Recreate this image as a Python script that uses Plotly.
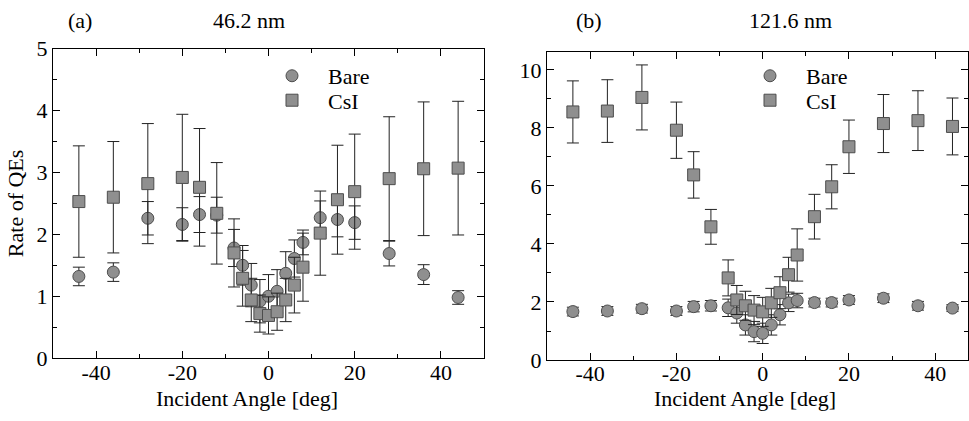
import plotly.graph_objects as go

# ---------------- data ----------------
# Panel (a) 46.2 nm
a_bare_x = [-44, -36, -28, -20, -16, -12, -8, -6, -4, -2, 0, 2, 4, 6, 8, 12, 16, 20, 28, 36, 44]
a_bare_y = [1.32, 1.39, 2.26, 2.16, 2.32, 2.31, 1.78, 1.50, 1.18, 0.92, 1.00, 1.08, 1.37, 1.61, 1.87, 2.27, 2.24, 2.19, 1.69, 1.35, 0.98]
a_bare_e = [0.15, 0.15, 0.27, 0.27, 0.29, 0.29, 0.30, 0.32, 0.35, 0.35, 0.35, 0.35, 0.35, 0.30, 0.20, 0.27, 0.28, 0.27, 0.20, 0.16, 0.11]

a_csi_x = [-44, -36, -28, -20, -16, -12, -8, -6, -4, -2, 0, 2, 4, 6, 8, 12, 16, 20, 28, 36, 44]
a_csi_y = [2.53, 2.60, 2.82, 2.92, 2.76, 2.34, 1.70, 1.29, 0.94, 0.72, 0.69, 0.75, 0.94, 1.18, 1.47, 2.02, 2.56, 2.69, 2.90, 3.06, 3.07]
a_csi_e = [0.90, 0.90, 0.97, 1.02, 0.95, 0.82, 0.55, 0.45, 0.35, 0.30, 0.30, 0.30, 0.35, 0.45, 0.55, 0.68, 0.88, 0.93, 1.00, 1.08, 1.08]

# Panel (b) 121.6 nm
b_bare_x = [-44, -36, -28, -20, -16, -12, -8, -6, -4, -2, 0, 2, 4, 6, 8, 12, 16, 20, 28, 36, 44]
b_bare_y = [1.67, 1.69, 1.77, 1.69, 1.84, 1.87, 1.80, 1.62, 1.21, 0.98, 0.92, 1.21, 1.56, 1.97, 2.05, 1.98, 1.98, 2.07, 2.13, 1.87, 1.79]
b_bare_e = [0.15, 0.15, 0.15, 0.15, 0.18, 0.18, 0.30, 0.35, 0.35, 0.35, 0.35, 0.35, 0.35, 0.30, 0.25, 0.15, 0.15, 0.15, 0.15, 0.15, 0.12]

b_csi_x = [-44, -36, -28, -20, -16, -12, -8, -6, -4, -2, 0, 2, 4, 6, 8, 12, 16, 20, 28, 36, 44]
b_csi_y = [8.55, 8.58, 9.05, 7.92, 6.38, 4.59, 2.83, 2.07, 1.87, 1.72, 1.66, 1.97, 2.32, 2.94, 3.62, 4.94, 5.97, 7.35, 8.15, 8.25, 8.05]
b_csi_e = [1.07, 1.08, 1.12, 0.97, 0.80, 0.60, 0.62, 0.50, 0.50, 0.50, 0.50, 0.50, 0.55, 0.60, 0.90, 0.77, 0.76, 0.92, 1.00, 1.03, 0.98]

x_ticks = [-40, -20, 0, 20, 40]
x_tick_text = ["-40", "-20", "0", "20", "40"]
a_y_ticks = [0, 1, 2, 3, 4, 5]
b_y_ticks = [0, 2, 4, 6, 8, 10]

FONT = "Liberation Serif"
FS = 22
FILL = "#8f8f8f"
EDGE = "#4d4d4d"

fig = go.Figure()

def add(x, y, e, name, symbol, xa, ya, legend):
    fig.add_trace(go.Scatter(
        x=x, y=y, mode="markers", name=name,
        marker=dict(symbol=symbol, size=12, color=FILL, line=dict(color=EDGE, width=1)),
        error_y=dict(type="data", array=e, visible=True, color="#222222", thickness=1, width=6),
        xaxis=xa, yaxis=ya, legend=legend,
    ))

add(a_bare_x, a_bare_y, a_bare_e, "Bare", "circle", "x", "y", "legend")
add(a_csi_x, a_csi_y, a_csi_e, "CsI", "square", "x", "y", "legend2")
add(b_bare_x, b_bare_y, b_bare_e, "Bare", "circle", "x2", "y2", "legend3")
add(b_csi_x, b_csi_y, b_csi_e, "CsI", "square", "x2", "y2", "legend4")

W, H = 969, 421
def px(x0, x1):
    return [x0 / W, x1 / W]
def py(ytop, ybot):
    return [1 - ybot / H, 1 - ytop / H]

def axis(minor_dtick, **kw):
    d = dict(
        showline=True, linecolor="black", linewidth=1, mirror="allticks",
        ticks="inside", ticklen=7, tickwidth=1, tickcolor="black",
        showgrid=False, zeroline=False,
        tickfont=dict(family=FONT, size=FS, color="black"),
        minor=dict(ticks="inside", ticklen=4, tickcolor="black", dtick=minor_dtick, showgrid=False),
    )
    d.update(kw)
    return d

def leg(x, y):
    return dict(x=x / W, y=1 - y / H, xanchor="left", yanchor="middle",
                bgcolor="rgba(0,0,0,0)", font=dict(family=FONT, size=FS),
                itemwidth=62, borderwidth=0)

def note(text, xc, yc):
    return dict(text=text, x=xc / W, y=1 - yc / H, xref="paper", yref="paper", showarrow=False,
                xanchor="center", yanchor="middle", font=dict(family=FONT, size=FS, color="black"))

fig.update_layout(
    width=W, height=H,
    margin=dict(l=0, r=0, t=0, b=0),
    paper_bgcolor="white", plot_bgcolor="white",
    font=dict(family=FONT, size=FS, color="black"),
    showlegend=True,
    xaxis=axis(10, domain=px(53, 484), range=[-50, 50], tickvals=x_ticks, ticktext=x_tick_text,
               anchor="y", ticklabelstandoff=-6),
    yaxis=axis(0.5, domain=py(39, 368), range=[0, 5], tickvals=a_y_ticks, anchor="x",
               title=dict(text="Rate of QEs", font=dict(family=FONT, size=FS), standoff=6)),
    xaxis2=axis(10, domain=px(547, 968), range=[-50, 47.6], tickvals=x_ticks, ticktext=x_tick_text,
                anchor="y2", ticklabelstandoff=-6),
    yaxis2=axis(1, domain=py(43, 370), range=[0, 10.6], tickvals=b_y_ticks, anchor="x2"),
    legend=leg(256, 68),
    legend2=leg(256, 94),
    legend3=leg(734, 68),
    legend4=leg(734, 94),
    annotations=[
        note("(a)", 80, 9), note("46.2 nm", 249, 9),
        note("(b)", 589, 9), note("121.6 nm", 790, 9),
        note("Incident Angle [deg]", 247, 411),
        note("Incident Angle [deg]", 745, 411),
    ],
)

fig.write_html("out.html")
